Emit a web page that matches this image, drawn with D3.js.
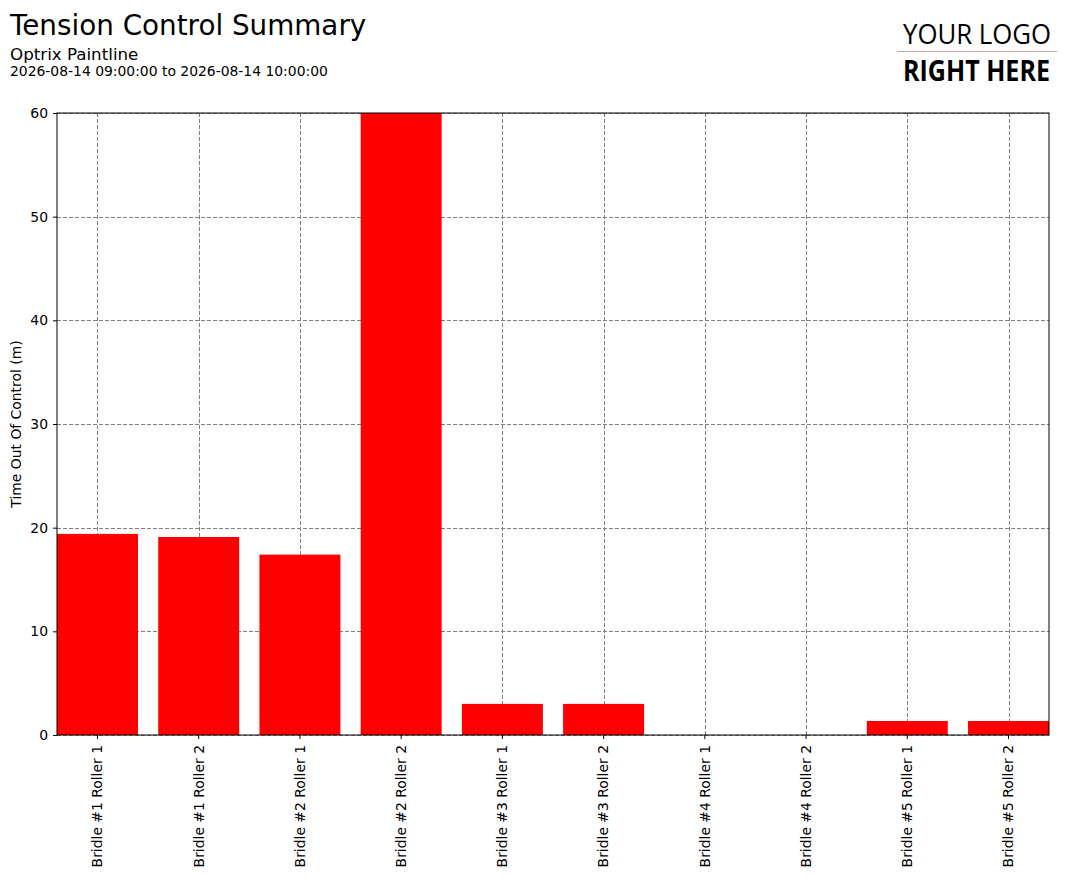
<!DOCTYPE html>
<html>
<head>
<meta charset="utf-8">
<script src="https://cdn.jsdelivr.net/npm/d3@7"></script>
<style>
  body { margin: 0; background: #fff; }
  svg { display: block; font-family: "DejaVu Sans", sans-serif; }
</style>
</head>
<body>
<div id="chart"></div>
<script>
const categories = [
  "Bridle #1 Roller 1", "Bridle #1 Roller 2",
  "Bridle #2 Roller 1", "Bridle #2 Roller 2",
  "Bridle #3 Roller 1", "Bridle #3 Roller 2",
  "Bridle #4 Roller 1", "Bridle #4 Roller 2",
  "Bridle #5 Roller 1", "Bridle #5 Roller 2"
];
const minutesOut = [19.4, 19.1, 17.4, 60, 3.0, 3.0, 0, 0, 1.35, 1.35];
const yTicks = [0, 10, 20, 30, 40, 50, 60];

const width = 1073;
const height = 877;
const margin = { top: 113, right: 24, bottom: 142, left: 57 };
const chartWidth = width - margin.left - margin.right;
const chartHeight = height - margin.top - margin.bottom;

const svg = d3.select("#chart")
  .append("svg")
  .attr("width", width)
  .attr("height", height);

// header
svg.append("text")
  .attr("x", 10).attr("y", 35)
  .style("font-size", "27.8px")
  .text("Tension Control Summary");

svg.append("text")
  .attr("x", 10).attr("y", 60)
  .style("font-size", "16.7px")
  .text("Optrix Paintline");

svg.append("text")
  .attr("x", 10).attr("y", 76)
  .style("font-size", "13.9px")
  .text("2026-08-14 09:00:00 to 2026-08-14 10:00:00");

// logo placeholder
svg.append("text")
  .attr("x", 903).attr("y", 44)
  .attr("textLength", 148)
  .attr("lengthAdjust", "spacingAndGlyphs")
  .style("font-family", "'Open Sans', sans-serif")
  .style("font-size", "28px")
  .text("YOUR LOGO");

svg.append("line")
  .attr("x1", 897).attr("x2", 1057)
  .attr("y1", 51.5).attr("y2", 51.5)
  .attr("stroke", "#d9a0a0")
  .attr("stroke-width", 1);

svg.append("text")
  .attr("x", 903).attr("y", 81)
  .attr("textLength", 147)
  .attr("lengthAdjust", "spacingAndGlyphs")
  .style("font-family", "'Open Sans', sans-serif")
  .style("font-size", "28px")
  .style("font-weight", "bold")
  .text("RIGHT HERE");

const g = svg.append("g")
  .attr("transform", `translate(${margin.left},${margin.top})`);

const x = d3.scaleBand()
  .domain(categories)
  .range([0, chartWidth])
  .paddingInner(0.2)
  .paddingOuter(0);

const y = d3.scaleLinear()
  .domain([0, 60])
  .range([chartHeight, 0]);

// grid
g.append("g")
  .selectAll("line")
  .data(yTicks)
  .join("line")
  .attr("x1", 0).attr("x2", chartWidth)
  .attr("y1", d => Math.round(y(d)) + 0.5)
  .attr("y2", d => Math.round(y(d)) + 0.5)
  .attr("stroke", "#808080")
  .attr("stroke-dasharray", "4,2");

g.append("g")
  .selectAll("line")
  .data(categories)
  .join("line")
  .attr("x1", d => Math.round(x(d) + x.bandwidth() / 2) + 0.5)
  .attr("x2", d => Math.round(x(d) + x.bandwidth() / 2) + 0.5)
  .attr("y1", 0).attr("y2", chartHeight)
  .attr("stroke", "#808080")
  .attr("stroke-dasharray", "4,2");

// bars
g.append("g")
  .selectAll("rect")
  .data(categories.map((c, i) => ({ name: c, value: minutesOut[i] })))
  .join("rect")
  .attr("x", d => x(d.name))
  .attr("y", d => y(d.value))
  .attr("width", x.bandwidth())
  .attr("height", d => chartHeight - y(d.value))
  .attr("fill", "#ff0000");

// axes
const xAxis = g.append("g")
  .attr("transform", `translate(0,${chartHeight})`)
  .call(d3.axisBottom(x).tickSizeOuter(0).tickSize(4).tickPadding(4));

xAxis.selectAll("text")
  .attr("transform", "rotate(-90)")
  .attr("x", -10)
  .attr("y", 0)
  .attr("dy", "0.35em")
  .style("text-anchor", "end");

const yAxis = g.append("g")
  .call(d3.axisLeft(y).tickValues(yTicks).tickSizeOuter(0).tickSize(4).tickPadding(5));

[xAxis, yAxis].forEach(a => {
  a.selectAll("text").style("font-size", "13.9px").style("font-family", "'DejaVu Sans', sans-serif").attr("fill", "#000");
  a.selectAll("line").attr("stroke", "#000");
  a.select(".domain").remove();
});

// frame
g.append("rect")
  .attr("x", 0).attr("y", 0)
  .attr("width", chartWidth).attr("height", chartHeight)
  .attr("fill", "none")
  .attr("stroke", "#000")
  .attr("stroke-width", 1);

svg.append("text")
  .attr("transform", "rotate(-90)")
  .attr("x", -(margin.top + chartHeight / 2))
  .attr("y", 21)
  .attr("text-anchor", "middle")
  .style("font-size", "13.9px")
  .text("Time Out Of Control (m)");
</script>
</body>
</html>
